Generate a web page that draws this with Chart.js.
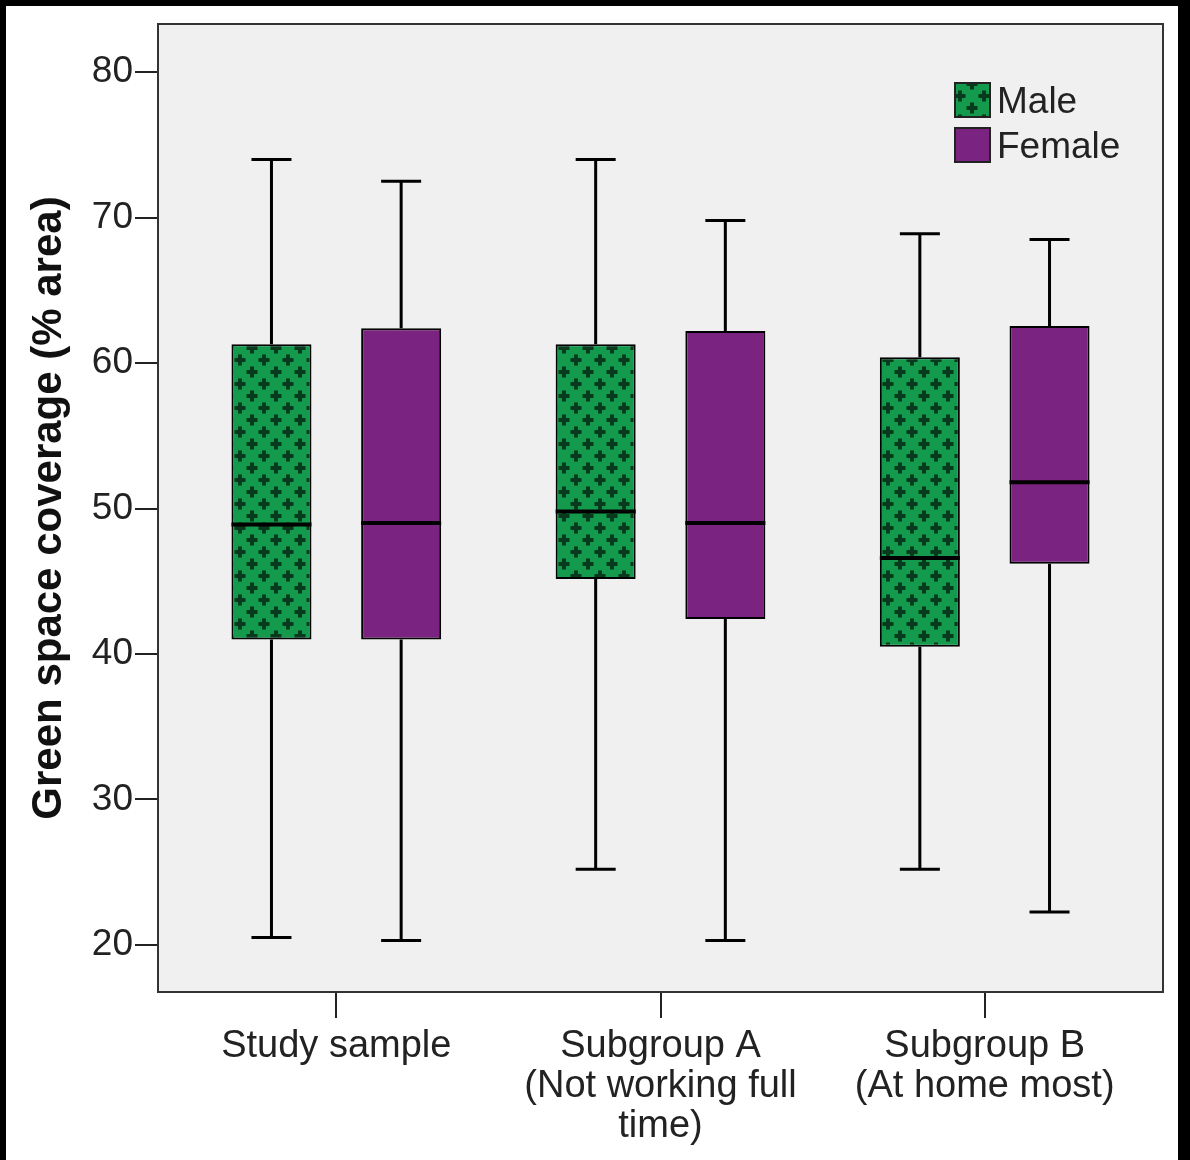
<!DOCTYPE html>
<html>
<head>
<meta charset="utf-8">
<script src="https://cdn.jsdelivr.net/npm/chart.js@4/dist/chart.umd.min.js"></script>
<style>
  body { margin: 0; background: #000; }
  #wrap { position: absolute; left: 6px; top: 6px; width: 1172px; height: 1154px; background: #fff; }
</style>
</head>
<body>
<div id="wrap"><canvas id="myChart" width="1172" height="1154"></canvas></div>
<script>
// box plot values
const categories = [
  ['Study sample'],
  ['Subgroup A', '(Not working full', 'time)'],
  ['Subgroup B', '(At home most)']
]
const seriesNames = ['Male', 'Female']
const yTicks = [20, 30, 40, 50, 60, 70, 80]

const maleMin = [20.5, 25.2, 25.2]
const maleQ1 = [41.0, 45.15, 40.5]
const maleMedian = [48.9, 49.8, 46.6]
const maleQ3 = [61.3, 61.3, 60.4]
const maleMax = [74.0, 74.0, 68.9]

const femaleMin = [20.3, 20.3, 22.25]
const femaleQ1 = [41.0, 42.4, 46.2]
const femaleMedian = [49.0, 49.0, 51.8]
const femaleQ3 = [62.4, 62.2, 62.55]
const femaleMax = [72.5, 69.8, 68.5]

// green fill with dark crosses
const makePattern = () => {
  const pc = document.createElement('canvas')
  pc.width = 24
  pc.height = 24
  const p = pc.getContext('2d')
  p.fillStyle = '#139a4d'
  p.fillRect(0, 0, 24, 24)
  p.fillStyle = '#083a1d'
  ;[[6, 6], [18, 18]].forEach(([x, y]) => {
    p.fillRect(x - 5.5, y - 2, 11, 4)
    p.fillRect(x - 2, y - 5.5, 4, 11)
  })
  return p.createPattern(pc, 'repeat')
}
const greenFill = makePattern()
const purple = '#7b2381'

const boxStats = [
  { min: maleMin, median: maleMedian, max: maleMax },
  { min: femaleMin, median: femaleMedian, max: femaleMax }
]

const boxPlugin = {
  id: 'boxes',
  beforeDraw(chart) {
    const { ctx, chartArea: a } = chart
    ctx.save()
    ctx.fillStyle = '#f0f0f0'
    ctx.fillRect(a.left, a.top, a.right - a.left, a.bottom - a.top)
    ctx.restore()
  },
  afterDatasetsDraw(chart) {
    const { ctx, chartArea: a } = chart
    const yScale = chart.scales.y
    ctx.save()
    ctx.strokeStyle = '#000'
    chart.data.datasets.forEach((ds, di) => {
      const meta = chart.getDatasetMeta(di)
      const st = boxStats[di]
      meta.data.forEach((bar, i) => {
        const x = bar.x
        const w = bar.width
        const yMax = yScale.getPixelForValue(st.max[i])
        const yMin = yScale.getPixelForValue(st.min[i])
        const yQ3 = yScale.getPixelForValue(ds.data[i].y[1])
        const yQ1 = yScale.getPixelForValue(ds.data[i].y[0])
        const yMed = yScale.getPixelForValue(st.median[i])
        ctx.lineWidth = 3
        ctx.beginPath()
        ctx.moveTo(x, yQ3); ctx.lineTo(x, yMax)
        ctx.moveTo(x - w / 4, yMax); ctx.lineTo(x + w / 4, yMax)
        ctx.moveTo(x, yQ1); ctx.lineTo(x, yMin)
        ctx.moveTo(x - w / 4, yMin); ctx.lineTo(x + w / 4, yMin)
        ctx.stroke()
        ctx.lineWidth = 4
        ctx.beginPath()
        ctx.moveTo(x - w / 2, yMed); ctx.lineTo(x + w / 2, yMed)
        ctx.stroke()
      })
    })
    // plot frame
    ctx.strokeStyle = '#333'
    ctx.lineWidth = 2
    ctx.strokeRect(a.left, a.top, a.right - a.left, a.bottom - a.top)
    ctx.restore()
  },
  afterDraw(chart) {
    // legend inside the plot, top right
    const { ctx, chartArea: a } = chart
    ctx.save()
    ctx.font = '37px "Liberation Sans", Arial, sans-serif'
    ctx.textBaseline = 'middle'
    chart.data.datasets.forEach((ds, i) => {
      const bx = a.right - 208
      const by = a.top + 59 + i * 45
      ctx.fillStyle = ds.backgroundColor
      ctx.fillRect(bx, by, 35, 34)
      ctx.strokeStyle = '#222'
      ctx.lineWidth = 2
      ctx.strokeRect(bx, by, 35, 34)
      ctx.fillStyle = '#222'
      ctx.fillText(ds.label, bx + 42, by + 20)
    })
    ctx.restore()
  }
}

const ctx = document.getElementById('myChart').getContext('2d')
const myChart = new Chart(ctx, {
  type: 'bar',
  data: {
    datasets: [
      {
        label: seriesNames[0],
        data: maleQ1.map((q1, i) => ({ x: i, y: [q1, maleQ3[i]] })),
        backgroundColor: greenFill,
        borderColor: '#000',
        borderWidth: 2,
        borderSkipped: false
      },
      {
        label: seriesNames[1],
        data: femaleQ1.map((q1, i) => ({ x: i, y: [q1, femaleQ3[i]] })),
        backgroundColor: purple,
        borderColor: '#000',
        borderWidth: 2,
        borderSkipped: false
      }
    ]
  },
  options: {
    responsive: false,
    animation: false,
    devicePixelRatio: 1,
    categoryPercentage: 0.8,
    barPercentage: 0.617,
    layout: { padding: { top: 18, right: 15, left: 0, bottom: 0 } },
    plugins: { legend: { display: false }, tooltip: { enabled: false } },
    scales: {
      x: {
        type: 'linear',
        min: -0.55,
        max: 2.55,
        offset: false,
        afterBuildTicks: s => { s.ticks = categories.map((c, i) => ({ value: i })) },
        afterFit: s => { s.height = 168 },
        border: { display: false },
        grid: { offset: false, drawOnChartArea: false, tickLength: 26, lineWidth: 2, color: '#222' },
        ticks: {
          callback: v => categories[v],
          maxRotation: 0,
          autoSkip: false,
          padding: 9,
          color: '#222',
          font: { family: '"Liberation Sans", Arial, sans-serif', size: 38, lineHeight: 1.05 }
        }
      },
      y: {
        min: 16.75,
        max: 83.32,
        afterBuildTicks: s => { s.ticks = yTicks.map(v => ({ value: v })) },
        afterFit: s => { s.width = 152; s.paddingTop = 0; s.paddingBottom = 0 },
        border: { display: false },
        grid: { drawOnChartArea: false, tickLength: 23, lineWidth: 2, color: '#222' },
        ticks: {
          padding: 2,
          color: '#222',
          font: { family: '"Liberation Sans", Arial, sans-serif', size: 37 }
        },
        title: {
          display: true,
          text: 'Green space coverage (% area)',
          color: '#111',
          padding: { top: 18, bottom: 0 },
          font: { family: '"Liberation Sans", Arial, sans-serif', size: 42, weight: 'bold', lineHeight: 1.2 }
        }
      }
    }
  },
  plugins: [boxPlugin]
})
</script>
</body>
</html>
